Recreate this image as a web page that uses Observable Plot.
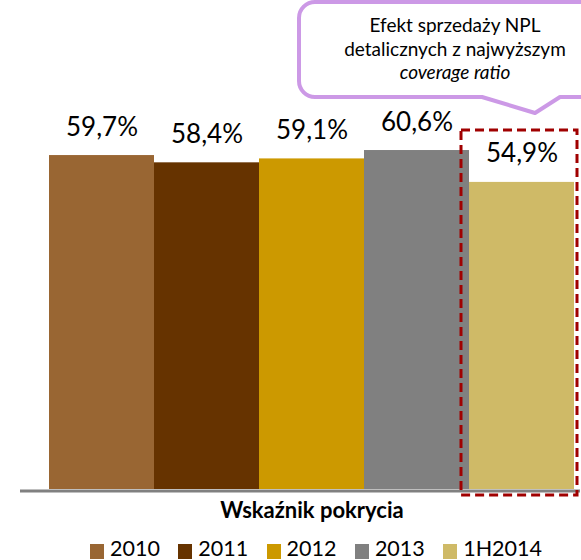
<!DOCTYPE html>
<html><head><meta charset="utf-8">
<script src="https://cdn.jsdelivr.net/npm/d3@7"></script>
<script src="https://cdn.jsdelivr.net/npm/@observablehq/plot@0.6"></script>
<style>
  body { margin: 0; background: #fff; }
  #chart { width: 581px; height: 560px; position: relative; overflow: hidden; font-family: Lato, "Open Sans", sans-serif; }
  #chart svg { display: block; }
  .legend { position: absolute; left: 90px; top: 535px; display: flex; }
  .legend .item { width: 88.3px; display: flex; align-items: flex-start; }
  .legend .sw { width: 14px; height: 15px; margin-top: 9px; margin-right: 6px; flex: none; }
  .legend .lab { font-size: 21.5px; line-height: 26px; color: #000; margin-top: 0px; white-space: nowrap; }
</style></head>
<body><div id="chart"></div>
<script>
const categories = ["2010", "2011", "2012", "2013", "1H2014"];
const values = [59.7, 58.4, 59.1, 60.6, 54.9];
const labels = ["59,7%", "58,4%", "59,1%", "60,6%", "54,9%"];
const colors = ["#996633", "#663300", "#CC9900", "#808080", "#CFBA67"];
const axisTitle = "Wskaźnik pokrycia";
const calloutLines = ["Efekt sprzedaży NPL", "detalicznych z najwyższym", "coverage ratio"];
const highlight = "1H2014";

const data = categories.map((c, i) => ({category: c, value: values[i], label: labels[i]}));

function callout(index, scales, vals, dims) {
  const g = d3.create("svg:g");
  const L = 299, T = 2, R = 620, B = 97, r = 16;
  const p1 = 482, tipX = 535, tipY = 113, p2 = 560;
  g.append("path")
    .attr("d", `M${L + r},${T} H${R} V${B} H${p2} L${tipX},${tipY} L${p1},${B} H${L + r} A${r},${r} 0 0 1 ${L},${B - r} V${T + r} A${r},${r} 0 0 1 ${L + r},${T} Z`)
    .attr("fill", "white").attr("stroke", "#CC99E6").attr("stroke-width", 4).attr("stroke-linejoin", "round");
  const base = [32, 56, 79];
  calloutLines.forEach((t, i) => {
    g.append("text").attr("x", 455).attr("y", base[i]).attr("text-anchor", "middle")
      .attr("font-size", 19).attr("fill", "#000")
      .attr("font-style", i === 2 ? "italic" : "normal").text(t);
  });
  return g.node();
}

const plot = Plot.plot({
  width: 581, height: 535,
  marginLeft: 47, marginRight: 5, marginTop: 41.5, marginBottom: 46,
  x: {domain: categories, padding: 0, axis: null},
  y: {domain: [0, 80], axis: null},
  color: {domain: categories, range: colors},
  style: {fontFamily: "Lato, 'Open Sans', sans-serif", background: "white", overflow: "visible"},
  marks: [
    Plot.barY(data, {x: "category", y: "value", fill: "category"}),
    Plot.ruleY([0], {stroke: "#808080", strokeWidth: 3, insetLeft: -27, insetRight: -4, dy: 1.5}),
    Plot.text(data, {x: "category", y: "value", text: "label", lineAnchor: "bottom", dy: -20, fontSize: 26, fill: "black"}),
    Plot.text([axisTitle], {frameAnchor: "bottom", lineAnchor: "bottom", dy: 28, fontSize: 22, fontWeight: "bold", fill: "black"}),
    Plot.barY([highlight], {x: d => d, y1: -1.07, y2: 64.2, fill: "none", stroke: "#A00000", strokeWidth: 3, strokeDasharray: "9,5", insetLeft: -8, insetRight: -3}),
    callout
  ]
});

const chart = document.getElementById("chart");
chart.appendChild(plot);
const legend = document.createElement("div");
legend.className = "legend";
categories.forEach((c, i) => {
  const item = document.createElement("div");
  item.className = "item";
  const sw = document.createElement("span");
  sw.className = "sw"; sw.style.background = colors[i];
  const lab = document.createElement("span");
  lab.className = "lab"; lab.textContent = c;
  item.appendChild(sw); item.appendChild(lab);
  legend.appendChild(item);
});
chart.appendChild(legend);
</script>
</body></html>
